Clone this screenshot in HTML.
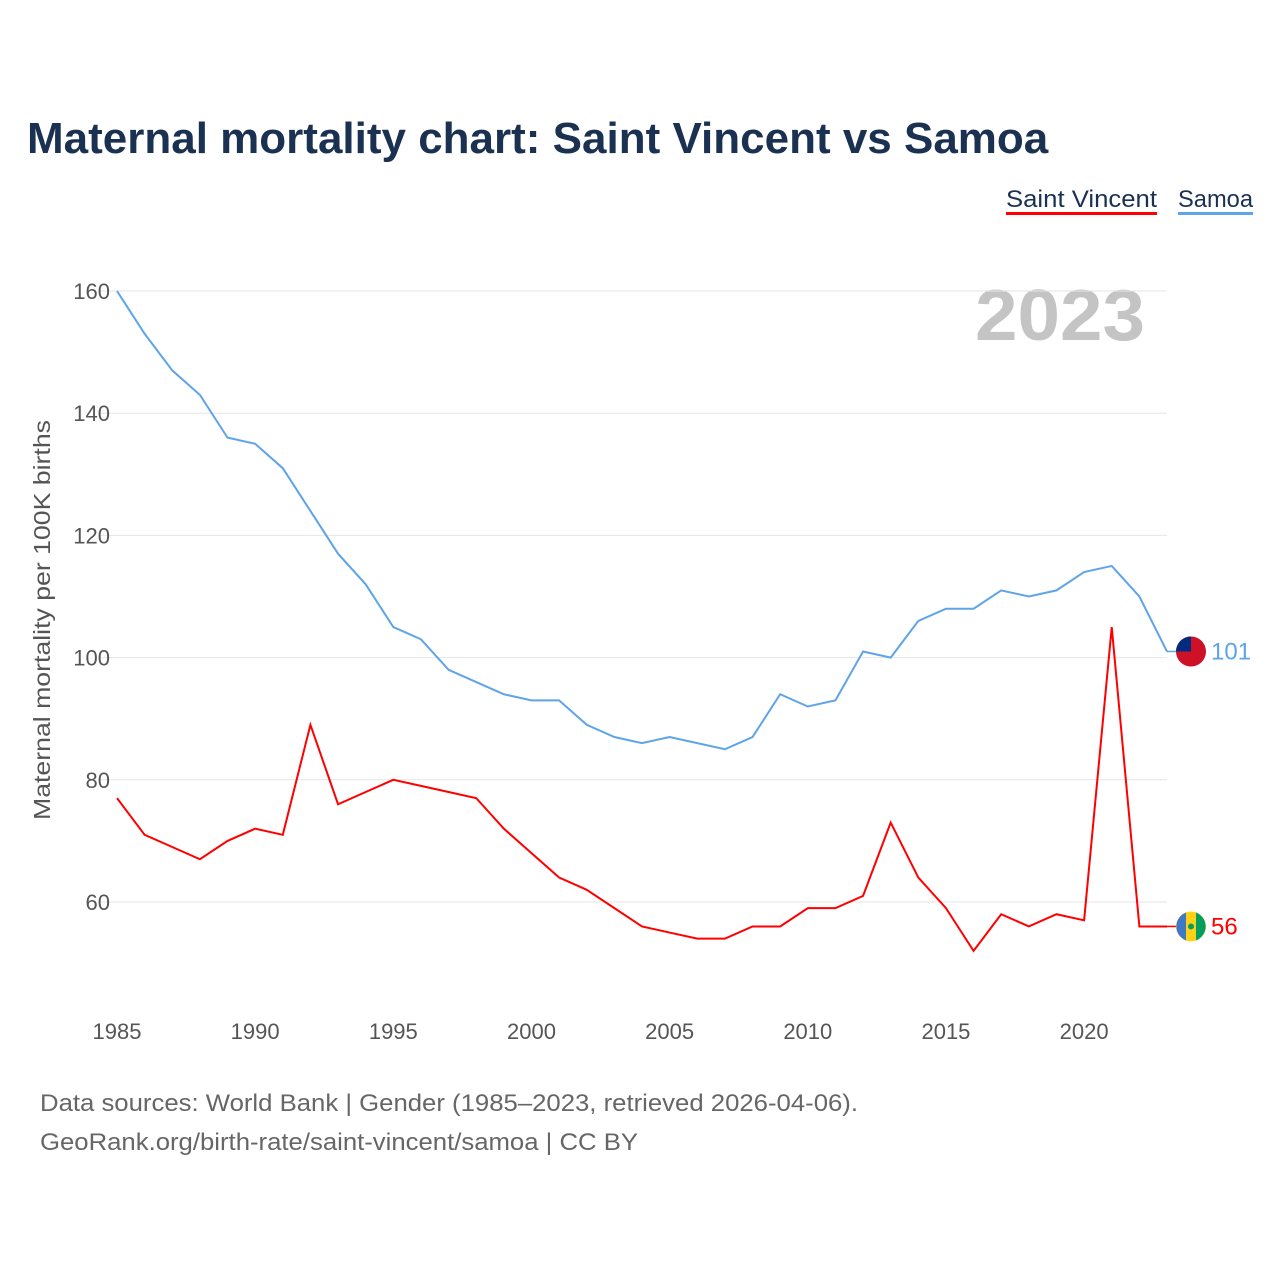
<!DOCTYPE html>
<html><head><meta charset="utf-8"><style>
body{margin:0;background:#fff;font-family:"Liberation Sans",sans-serif}
svg text{font-family:"Liberation Sans",sans-serif}
</style></head><body>
<svg width="1280" height="1280" viewBox="0 0 1280 1280">
<text x="27" y="153" font-size="44" font-weight="bold" fill="#1b3152">Maternal mortality chart: Saint Vincent vs Samoa</text>
<g><text x="1006" y="207" font-size="24" fill="#1b3152" textLength="151" lengthAdjust="spacingAndGlyphs">Saint Vincent</text><rect x="1006" y="212" width="151" height="3" fill="#f00"/></g>
<g><text x="1178" y="207" font-size="24" fill="#1b3152" textLength="75" lengthAdjust="spacingAndGlyphs">Samoa</text><rect x="1178" y="212" width="75" height="3" fill="#5ea4e8"/></g>
<text x="975" y="340" font-size="72" font-weight="bold" fill="#c4c4c4" textLength="170" lengthAdjust="spacingAndGlyphs">2023</text>
<text transform="translate(50,820) rotate(-90)" font-size="23" fill="#555" textLength="400" lengthAdjust="spacingAndGlyphs">Maternal mortality per 100K births</text>
<g id="grid"></g><g id="xt"></g><g id="lines"></g>
<text x="40" y="1111" font-size="24" fill="#666" textLength="818" lengthAdjust="spacingAndGlyphs">Data sources: World Bank | Gender (1985–2023, retrieved 2026-04-06).</text>
<text x="40" y="1150" font-size="24" fill="#666" textLength="598" lengthAdjust="spacingAndGlyphs">GeoRank.org/birth-rate/saint-vincent/samoa | CC BY</text>
</svg>
<script>
const years=[];for(let y=1985;y<=2023;y++)years.push(y);
const samoa=[160,153,147,143,136,135,131,124,117,112,105,103,98,96,94,93,93,89,87,86,87,86,85,87,94,92,93,101,100,106,108,108,111,110,111,114,115,110,101];
const stvincent=[77,71,69,67,70,72,71,89,76,78,80,79,78,77,72,68,64,62,59,56,55,54,54,56,56,59,59,61,73,64,59,52,58,56,58,57,105,56,56];
const yTicks=[60,80,100,120,140,160];
const xTicks=[1985,1990,1995,2000,2005,2010,2015,2020];
const X=y=>117+(y-1985)*(1167-117)/38;
const Y=v=>902-(v-60)*(902-291)/100;
const NS="http://www.w3.org/2000/svg";
function mk(t,a,p){const e=document.createElementNS(NS,t);for(const k in a)e.setAttribute(k,a[k]);p.appendChild(e);return e;}
const grid=document.getElementById('grid');
yTicks.forEach(v=>{
 const l=mk('line',{x1:100,x2:1167,y1:Y(v),y2:Y(v),stroke:'#e6e6e6'},grid);
 
 
 const t=mk('text',{x:110,y:Y(v)+8,'font-size':22,fill:'#555','text-anchor':'end'},grid);t.textContent=v;
 
 
});
const xt=document.getElementById('xt');
xTicks.forEach(v=>{
 const t=mk('text',{x:X(v),y:1039,'font-size':22,fill:'#555','text-anchor':'middle'},xt);t.textContent=v;
 
 
});
const lines=document.getElementById('lines');
function series(vals,color,name,flag){
 const pts=vals.map((v,i)=>X(years[i])+','+Y(vals[i])).join(' ');
 const p=mk('polyline',{points:pts,fill:'none',stroke:color,'stroke-width':2},lines);
 
 
 const last=vals[vals.length-1],ly=Y(last);
 mk('line',{x1:1167,x2:1180,y1:ly,y2:ly,stroke:color,'stroke-width':1.5},lines);
 const g=mk('g',{},lines);
 
 
 if(flag==='ws'){
  mk('circle',{cx:1191,cy:ly,r:15,fill:'#ce1126'},g);
  mk('path',{d:`M1176,${ly} A15,15 0 0 1 1191,${ly-15} L1191,${ly} Z`,fill:'#002b7f'},g);
 }else{
  mk('circle',{cx:1191,cy:ly,r:15,fill:'#fcd116'},g);
  mk('path',{d:`M1186,${ly-14} A15,15 0 0 0 1186,${ly+14} Z`,fill:'#3f78c7'},g);
  mk('path',{d:`M1196,${ly-14} A15,15 0 0 1 1196,${ly+14} Z`,fill:'#009e60'},g);
  mk('circle',{cx:1191,cy:ly,r:3,fill:'#009e60'},g);
 }
 const t=mk('text',{x:1211,y:ly+8,'font-size':24,fill:color},lines);t.textContent=last;
 
 
}
series(samoa,'#5ea4e8','samoa','ws');
series(stvincent,'#ff0000','saint-vincent','vc');
</script>
</body></html>
